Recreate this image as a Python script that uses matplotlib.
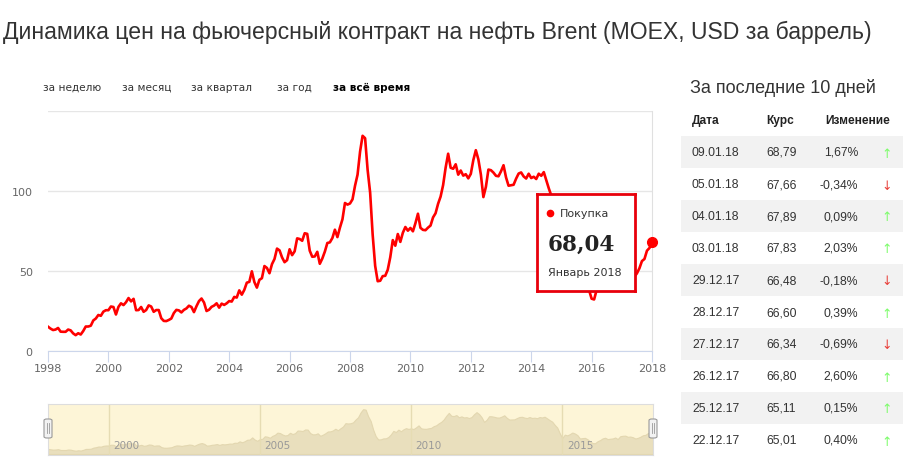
import matplotlib
matplotlib.use("Agg")
import matplotlib.pyplot as plt
from matplotlib.patches import Rectangle, FancyBboxPatch
import numpy as np

# monthly Brent, USD per barrel, Jan 1998 .. Jan 2018
prices = [
    15.2, 14.0, 13.1, 13.4, 14.4, 12.1, 12.0, 12.0, 13.4, 12.9, 11.0, 9.9,
    11.1, 10.3, 12.5, 15.3, 15.3, 15.8, 19.1, 20.3, 22.5, 22.0, 24.6, 25.5,
    25.5, 27.8, 27.5, 22.8, 27.6, 29.8, 28.7, 30.5, 33.1, 31.0, 32.6, 25.5,
    25.6, 27.5, 24.5, 25.6, 28.5, 27.8, 24.5, 25.6, 25.6, 20.5, 18.8, 18.7,
    19.4, 20.3, 23.7, 25.7, 25.4, 24.1, 25.7, 26.6, 28.3, 27.5, 24.3, 28.0,
    31.2, 32.8, 30.3, 25.0, 25.8, 27.6, 28.4, 29.8, 27.1, 29.6, 28.8, 29.8,
    31.2, 30.9, 33.8, 33.4, 37.9, 35.2, 38.2, 42.7, 43.2, 49.8, 43.1, 39.6,
    44.5, 45.5, 53.1, 51.9, 48.6, 54.3, 57.5, 64.0, 62.9, 58.5, 55.5, 56.8,
    63.6, 59.9, 62.3, 70.4, 70.0, 68.9, 73.6, 73.2, 62.7, 58.9, 59.1, 62.0,
    54.5, 57.8, 62.1, 67.5, 67.9, 70.6, 75.8, 71.2, 77.1, 82.3, 92.5, 91.5,
    92.2, 94.8, 103.3, 110.2, 124.6, 134.5, 133.0, 113.2, 99.0, 72.8, 53.2, 43.6,
    43.9, 46.8, 47.0, 50.8, 58.6, 69.3, 65.8, 73.1, 68.2, 73.9, 77.5, 75.2,
    76.9, 74.8, 79.9, 85.8, 77.0, 75.7, 75.5, 77.1, 78.4, 83.5, 86.1, 92.0,
    96.5, 103.7, 114.6, 123.3, 114.5, 113.9, 116.7, 110.2, 112.8, 109.6, 110.5, 107.9,
    110.7, 119.3, 125.5, 119.8, 110.3, 96.2, 102.6, 113.4, 113.0, 111.5, 109.5, 109.2,
    112.3, 116.1, 108.5, 103.3, 103.6, 103.9, 107.7, 110.9, 111.6, 109.1, 107.8, 110.8,
    108.1, 108.9, 107.5, 110.8, 109.5, 111.8, 106.8, 101.6, 97.1, 87.4, 79.4, 62.3,
    47.8, 58.1, 55.9, 59.5, 64.3, 61.5, 56.6, 46.5, 47.6, 48.4, 44.3, 38.0,
    32.7, 32.2, 38.2, 41.6, 46.7, 48.8, 44.7, 45.8, 46.6, 49.5, 44.8, 53.3,
    54.6, 55.0, 51.6, 52.3, 50.3, 46.4, 48.5, 51.7, 56.2, 57.5, 62.7, 64.4,
    68.04,
]
years = 1998 + np.arange(len(prices)) / 12.0

x_ticks = [1998, 2000, 2002, 2004, 2006, 2008, 2010, 2012, 2014, 2016, 2018]
y_ticks = [0, 50, 100, 150]
nav_ticks = [2000, 2005, 2010, 2015]
buttons = ["за неделю", "за месяц", "за квартал", "за год", "за всё время"]
button_x = [43, 122, 191, 277, 333]

table_dates = ["09.01.18", "05.01.18", "04.01.18", "03.01.18", "29.12.17",
               "28.12.17", "27.12.17", "26.12.17", "25.12.17", "22.12.17"]
table_rates = ["68,79", "67,66", "67,89", "67,83", "66,48",
               "66,60", "66,34", "66,80", "65,11", "65,01"]
table_change = [1.67, -0.34, 0.09, 2.03, -0.18, 0.39, -0.69, 2.60, 0.15, 0.40]

W, H = 913, 477
fig = plt.figure(figsize=(W / 100, H / 100), dpi=100)
fig.patch.set_facecolor("white")


def fx(x):
    return x / W


def fy(y):
    return 1 - y / H


def box(x0, y0, x1, y1):
    return [fx(x0), fy(y1), fx(x1) - fx(x0), fy(y0) - fy(y1)]


RED = "#ff0000"
TXT = "#333333"
TF = "Liberation Sans"

# title: fit it to the width it has in the original (about 870 px)
title = fig.text(fx(3), fy(32), "Динамика цен на фьючерсный контракт на нефть Brent (MOEX, USD за баррель)",
                 fontsize=16, color=TXT, family=TF, va="center", ha="left")
r = fig.canvas.get_renderer()
tw = title.get_window_extent(r).width
title.set_fontsize(16 * 870 / tw)

for label, bx in zip(buttons, button_x):
    bold = label == "за всё время"
    fig.text(fx(bx), fy(88), label, fontsize=7.6, color="black" if bold else TXT,
             fontweight="bold" if bold else "normal", va="center", ha="left")

# main chart
ax = fig.add_axes(box(48, 112, 652, 352))
ax.plot(years, prices, color=RED, lw=1.9, solid_joinstyle="round", zorder=3)
ax.plot(years[-1], prices[-1], "o", color=RED, ms=7, clip_on=False, zorder=4)
ax.set_xlim(1998, 2018)
ax.set_ylim(0, 150)
ax.set_yticks(y_ticks)
ax.set_yticklabels(["0", "50", "100", ""])
ax.set_xticks(x_ticks)
ax.grid(axis="y", color="#e6e6e6", lw=1)
ax.set_axisbelow(True)
for s in ["top", "left"]:
    ax.spines[s].set_visible(False)
ax.spines["right"].set_color("#e0e0e0")
ax.spines["bottom"].set_color("#ccd6eb")
ax.tick_params(axis="y", length=0, labelsize=8, labelcolor="#666666", pad=11)
ax.tick_params(axis="x", length=8, color="#ccd6eb", labelsize=8, labelcolor="#666666", pad=1)

# tooltip
tip = fig.add_axes(box(537, 195, 635, 292))
tip.set_xticks([])
tip.set_yticks([])
tip.set_xlim(0, 1)
tip.set_ylim(0, 1)
tip.set_facecolor("white")
for s in tip.spines.values():
    s.set_color("#e8000b")
    s.set_linewidth(2)
tip.plot(0.13, 0.80, "o", color=RED, ms=4.5)
tip.text(0.23, 0.80, "Покупка", fontsize=8, color=TXT, va="center", ha="left")
tip.text(0.11, 0.49, "68,04", fontsize=15.5, color="#222222", family="DejaVu Serif",
         fontweight="bold", va="center", ha="left")
tip.text(0.11, 0.20, "Январь 2018", fontsize=8, color=TXT, va="center", ha="left")

# navigator
nav = fig.add_axes(box(48, 405, 653, 456))
nav.set_facecolor("#fdf5d7")
nav.fill_between(years, prices, 0, color="#e9dfbd", lw=0.8, edgecolor="#e3d7b0")
nav.set_xlim(1998, 2018)
nav.set_ylim(-3, 150)
nav.set_xticks([])
nav.set_yticks([])
for t in nav_ticks:
    nav.axvline(t, color="#e6dcb3", lw=1)
    nav.text(t + 0.15, 26, str(t), fontsize=7.5, color="#999999", va="center", ha="left")
for s in nav.spines.values():
    s.set_color("#dddddd")
for hx in [44, 649]:
    fig.patches.append(FancyBboxPatch((fx(hx), fy(439)), fx(8), 19 / H,
                                      boxstyle="round,pad=0,rounding_size=0.003",
                                      transform=fig.transFigure, facecolor="#f2f2f2",
                                      edgecolor="#999999", lw=0.8))
    for dx in [3, 5]:
        fig.lines.append(plt.Line2D([fx(hx + dx), fx(hx + dx)], [fy(434), fy(424)],
                                    transform=fig.transFigure, color="#999999", lw=0.6))

# table of last 10 days
fig.text(fx(690), fy(88), "За последние 10 дней", fontsize=13, color=TXT,
         family=TF, va="center", ha="left")
for hx, name in zip([692, 766, 825], ["Дата", "Курс", "Изменение"]):
    fig.text(fx(hx), fy(121), name, fontsize=8.6, color="#222222", family=TF,
             fontweight="bold", va="center", ha="left")
for i, (d, r_, c) in enumerate(zip(table_dates, table_rates, table_change)):
    yc = 153 + 32 * i
    if i % 2 == 0:
        fig.patches.append(Rectangle((fx(681), fy(yc + 16)), fx(222), 32 / H,
                                     transform=fig.transFigure, facecolor="#f2f2f2", lw=0))
    fig.text(fx(692), fy(yc), d, fontsize=8.7, color=TXT, family=TF, va="center")
    fig.text(fx(766), fy(yc), r_, fontsize=8.7, color=TXT, family=TF, va="center")
    pct = f"{c:.2f}%".replace(".", ",")
    fig.text(fx(858), fy(yc), pct, fontsize=8.7, color=TXT, family=TF,
             va="center", ha="right")
    up = c >= 0
    fig.text(fx(887), fy(yc + 1), "↑" if up else "↓", fontsize=9,
             color="#7dfc6b" if up else "#e8403a", family="DejaVu Sans", va="center", ha="center")

fig.savefig("out.png", dpi=100)
